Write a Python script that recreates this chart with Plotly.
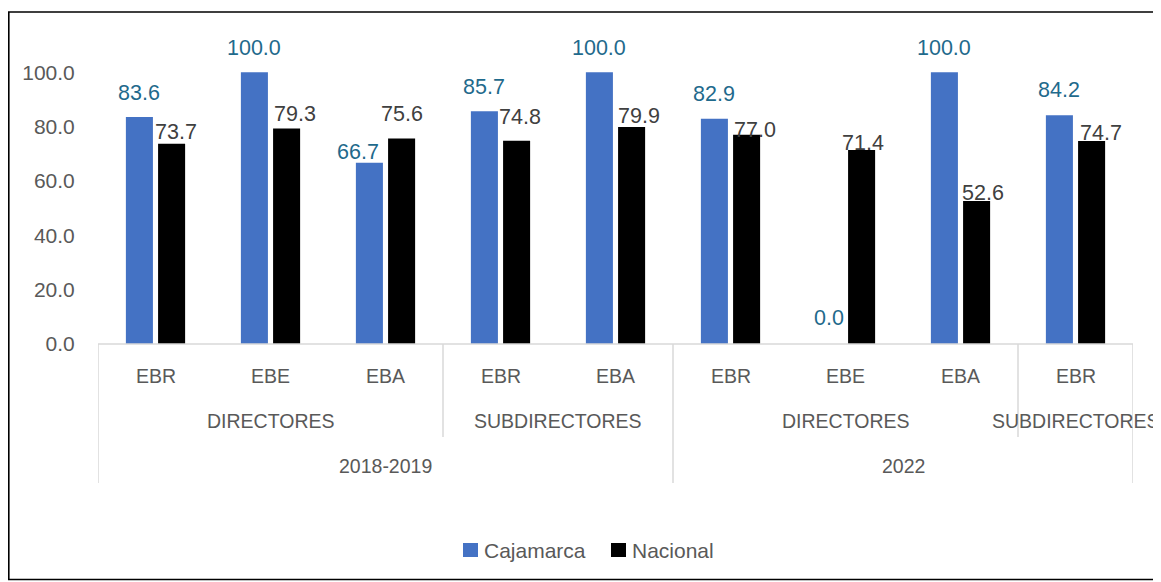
import plotly.graph_objects as go

# ---- data ----
level1 = ["EBR", "EBE", "EBA", "EBR", "EBA", "EBR", "EBE", "EBA", "EBR"]
level2 = ["DIRECTORES", "DIRECTORES", "DIRECTORES", "SUBDIRECTORES", "SUBDIRECTORES",
          "DIRECTORES", "DIRECTORES", "DIRECTORES", "SUBDIRECTORES"]
level3 = ["2018-2019", "2018-2019", "2018-2019", "2018-2019", "2018-2019",
          "2022", "2022", "2022", "2022"]
cajamarca = [83.6, 100.0, 66.7, 85.7, 100.0, 82.9, 0.0, 100.0, 84.2]
nacional = [73.7, 79.3, 75.6, 74.8, 79.9, 77.0, 71.4, 52.6, 74.7]
y_ticks = [0, 20, 40, 60, 80, 100]

# ---- label nudges (pixels, style only) ----
caj_dy = [24, 24, 11, 24, 24, 25, 26, 24, 25]
caj_dx = [0, 0, -11, 0, 0, 0, 0, 0, 0]
nac_dy = [12, 15, 25, 24, 11, 5, 7, 8, 8]
nac_dx = [4, 8, 0, 3, 7, 8, 1, 6, 9]

FONT = "Liberation Sans, Arial, sans-serif"
AX_COL = "#595959"
LINE_COL = "#D9D9D9"
BLUE = "#4472C4"
BLACK = "#000000"
CAJ_LBL = "#1F6A8C"
NAC_LBL = "#404040"

# page has an 8px body margin -> figure is 8px smaller and everything is measured in page px
W, H = 1153, 574
PL, PR, PT, PB = 98, 1133, 18, 344  # plot area in page pixels
OFF = 8


def px(xp):
    return (xp - PL) / (PR - PL)


def py(yp):
    return (PB - yp) / (PB - PT)


n = len(level1)
xs = list(range(n))

fig = go.Figure()
fig.add_trace(go.Bar(name="Cajamarca", x=xs, y=cajamarca, marker=dict(color=BLUE, line=dict(width=0)),
                     showlegend=False))
fig.add_trace(go.Bar(name="Nacional", x=xs, y=nacional, marker=dict(color=BLACK, line=dict(width=0)),
                     showlegend=False))

annotations = []
off = 0.14
for i in range(n):
    annotations.append(dict(x=i - off, y=cajamarca[i], xref="x", yref="y", text=f"{cajamarca[i]:.1f}",
                            showarrow=False, yanchor="middle", xanchor="center",
                            yshift=caj_dy[i], xshift=caj_dx[i],
                            font=dict(family=FONT, size=21.5, color=CAJ_LBL)))
    annotations.append(dict(x=i + off, y=nacional[i], xref="x", yref="y", text=f"{nacional[i]:.1f}",
                            showarrow=False, yanchor="middle", xanchor="center",
                            yshift=nac_dy[i], xshift=nac_dx[i],
                            font=dict(family=FONT, size=21.5, color=NAC_LBL)))

# multi-level category axis
row_y = [py(376), py(421), py(466)]
cat_font = dict(family=FONT, size=19.5, color=AX_COL)
for i in range(n):
    annotations.append(dict(x=i, y=row_y[0], xref="x", yref="paper", text=level1[i], showarrow=False,
                            yanchor="middle", font=cat_font))


def groups(keys):
    out = []
    start = 0
    for i in range(1, n + 1):
        if i == n or keys[i] != keys[start]:
            out.append((start, i - 1, keys[start][-1]))
            start = i
    return out


g2 = groups([(level3[i], level2[i]) for i in range(n)])
g3 = groups([(level3[i],) for i in range(n)])
for a, b, lab in g2:
    annotations.append(dict(x=(a + b) / 2, y=row_y[1], xref="x", yref="paper", text=lab, showarrow=False,
                            yanchor="middle", font=cat_font))
for a, b, lab in g3:
    annotations.append(dict(x=(a + b) / 2, y=row_y[2], xref="x", yref="paper", text=lab, showarrow=False,
                            yanchor="middle", font=cat_font))

shapes = []
shapes.append(dict(type="line", xref="x", yref="paper", x0=-0.5, x1=n - 0.5, y0=0, y1=0,
                   line=dict(color=LINE_COL, width=1.5)))
full_b = sorted({a - 0.5 for a, b, _ in g3} | {n - 0.5})
mid_b = sorted({a - 0.5 for a, b, _ in g2} - set(full_b))
for xb in full_b:
    shapes.append(dict(type="line", xref="x", yref="paper", x0=xb, x1=xb, y0=0, y1=py(483),
                       line=dict(color=LINE_COL, width=1.5)))
for xb in mid_b:
    shapes.append(dict(type="line", xref="x", yref="paper", x0=xb, x1=xb, y0=0, y1=py(437),
                       line=dict(color=LINE_COL, width=1.5)))
# outer chart frame
shapes.append(dict(type="rect", xref="paper", yref="paper", x0=px(8.8), x1=px(1158), y0=py(579.5), y1=py(12),
                   line=dict(color="#000000", width=1.6), fillcolor="rgba(0,0,0,0)", layer="above"))

# custom legend
leg_font = dict(family=FONT, size=21, color=AX_COL)
legend_items = [("Cajamarca", BLUE, 463), ("Nacional", BLACK, 611)]
for name, col, x0 in legend_items:
    shapes.append(dict(type="rect", xref="paper", yref="paper", x0=px(x0), x1=px(x0 + 15),
                       y0=py(557), y1=py(543), fillcolor=col, line=dict(width=0)))
    annotations.append(dict(x=px(x0 + 19), y=py(550), xref="paper", yref="paper", text=name, showarrow=False,
                            xanchor="left", yanchor="middle", font=leg_font))

fig.update_layout(
    width=W, height=H,
    margin=dict(l=PL - OFF, r=W - (PR - OFF), t=PT - OFF, b=H - (PB - OFF)),
    paper_bgcolor="white", plot_bgcolor="white",
    barmode="group", bargap=0.44, bargroupgap=0.16,
    font=dict(family=FONT, color=AX_COL),
    showlegend=False,
    annotations=annotations,
    shapes=shapes,
)
fig.update_xaxes(range=[-0.5, n - 0.5], showticklabels=False, showgrid=False, zeroline=False,
                 showline=False, ticks="")
fig.update_yaxes(range=[0, 120], tickvals=y_ticks, ticktext=[f"{v:.1f}" for v in y_ticks],
                 showgrid=False, zeroline=False, showline=False, ticks="outside", ticklen=18,
                 tickcolor="rgba(0,0,0,0)", tickfont=dict(family=FONT, size=21, color=AX_COL))

fig.write_html("out.html")
